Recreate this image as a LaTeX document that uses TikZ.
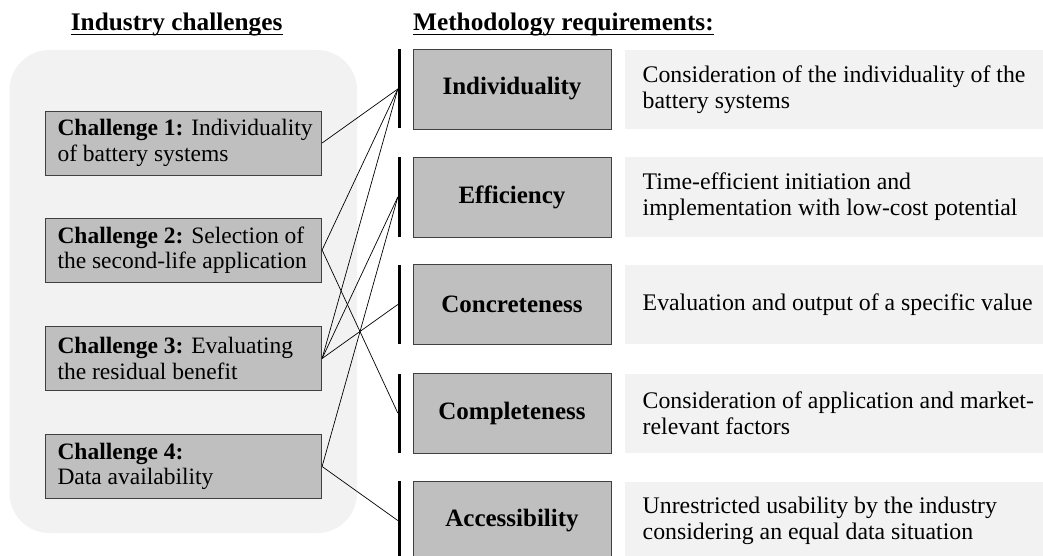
\documentclass[tikz,border=0pt]{standalone}
\usepackage{fontspec}
\setmainfont{Liberation Serif}
\definecolor{panel}{HTML}{F2F2F2}
\definecolor{boxgray}{HTML}{BFBFBF}
\definecolor{edgegray}{HTML}{404040}
\begin{document}
\begin{tikzpicture}[x=1pt,y=-1pt,
  txt/.style={font=\fontsize{23.5}{25.5}\selectfont, inner sep=0pt, align=left},
  dtxt/.style={font=\fontsize{23.8}{26}\selectfont, inner sep=0pt, align=left},
  hdr/.style={font=\fontsize{25.3}{27}\selectfont\bfseries, inner sep=0pt},
  ul/.style={line width=1.2pt},
  panelbox/.style={fill=panel, rounded corners=40pt, minimum width=347.5pt, minimum height=483pt, inner sep=0pt},
  cbox/.style={fill=boxgray, draw=edgegray, line width=0.8pt, minimum width=276pt, minimum height=64pt, inner sep=0pt},
  rbox/.style={fill=boxgray, draw=edgegray, line width=0.8pt, minimum width=198pt, minimum height=80pt, inner sep=0pt, font=\fontsize{25}{27}\selectfont\bfseries},
  dbox/.style={fill=panel, minimum width=418pt, minimum height=79pt, inner sep=0pt},
  bar/.style={fill=black, minimum width=3pt, minimum height=79pt, inner sep=0pt},
  conn/.style={line width=0.7pt, black}
]
\useasboundingbox (0,0) rectangle (1043,556);
\clip (0,0) rectangle (1043,556);

% headers
\node[hdr, anchor=base west] (h1) at (70.7,31) {Industry challenges};
\draw[ul] ([yshift=-3.5pt]h1.base west) -- ([yshift=-3.5pt]h1.base east);
\node[hdr, anchor=base west] (h2) at (413,31) {Methodology requirements:};
\draw[ul] ([yshift=-3.5pt]h2.base west) -- ([yshift=-3.5pt]h2.base east);

% left panel
\node[panelbox] (panel) at (183.25,291.5) {};

% challenge boxes
\node[cbox] (c1) at (183.7,143) {};
\node[cbox] (c2) at (183.7,250) {};
\node[cbox] (c3) at (183.7,358.5) {};
\node[cbox] (c4) at (183.7,466.5) {};
\node[txt, anchor=west] (c1t) at ([xshift=12pt]c1.west) {\textbf{Challenge 1:} Individuality\\of battery systems};
\node[txt, anchor=west] (c2t) at ([xshift=12pt]c2.west) {\textbf{Challenge 2:} Selection of\\the second-life application};
\node[txt, anchor=west] (c3t) at ([xshift=12pt]c3.west) {\textbf{Challenge 3:} Evaluating\\the residual benefit};
\node[txt, anchor=west] (c4t) at ([xshift=12pt]c4.west) {\textbf{Challenge 4:}\\Data availability};

% bars
\node[bar] (b1) at (399.5,89) {};
\node[bar] (b2) at (399.5,197) {};
\node[bar] (b3) at (399.5,304.5) {};
\node[bar] (b4) at (399.5,413) {};
\node[bar] (b5) at (399.5,520.5) {};

% requirement boxes
\node[rbox] (r1) at (512,89) {Individuality};
\node[rbox] (r2) at (512,197) {Efficiency};
\node[rbox] (r3) at (512,304.5) {Concreteness};
\node[rbox] (r4) at (512,413) {Completeness};
\node[rbox] (r5) at (512,521) {Accessibility};

% description boxes
\node[dbox] (d1) at (834,89.5) {};
\node[dbox] (d2) at (834,197) {};
\node[dbox] (d3) at (834,304.5) {};
\node[dbox] (d4) at (834,413) {};
\node[dbox] (d5) at (834,521) {};
\node[dtxt, anchor=west] (d1t) at ([xshift=17.7pt]d1.west) {Consideration of the individuality of the\\battery systems};
\node[dtxt, anchor=west] (d2t) at ([xshift=17.7pt]d2.west) {Time-efficient initiation and\\implementation with low-cost potential};
\node[dtxt, anchor=west] (d3t) at ([xshift=17.7pt]d3.west) {Evaluation and output of a specific value};
\node[dtxt, anchor=west] (d4t) at ([xshift=17.7pt]d4.west) {Consideration of application and market-\\relevant factors};
\node[dtxt, anchor=west] (d5t) at ([xshift=17.7pt]d5.west) {Unrestricted usability by the industry\\considering an equal data situation};

% connectors
\draw[conn] (c1.east) -- (b1.west);
\draw[conn] (c2.east) -- (b1.west);
\draw[conn] (c2.east) -- (b4.west);
\draw[conn] (c3.east) -- (b1.west);
\draw[conn] (c3.east) -- (b2.west);
\draw[conn] (c3.east) -- (b3.west);
\draw[conn] (c4.east) -- (b2.west);
\draw[conn] (c4.east) -- (b5.west);
\end{tikzpicture}
\end{document}
